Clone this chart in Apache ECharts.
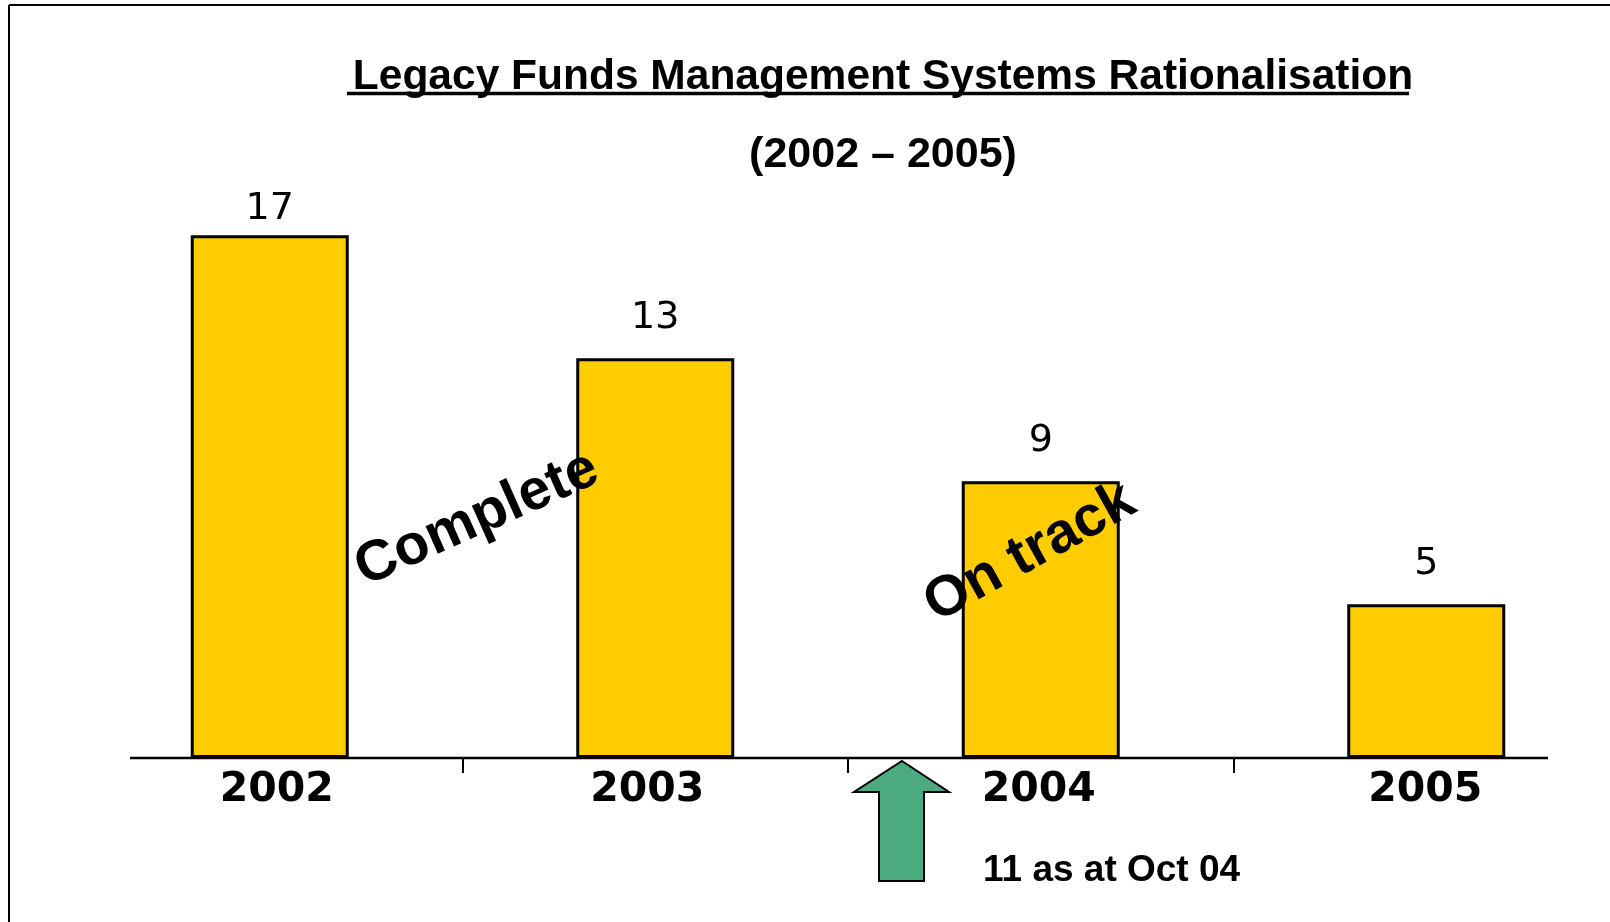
<!DOCTYPE html>
<html>
<head>
<meta charset="utf-8">
<script src="https://cdn.jsdelivr.net/npm/echarts@6/dist/echarts.min.js"></script>
<style>
  html, body { margin: 0; padding: 0; background: #fff; }
  #chart { width: 1610px; height: 922px; }
</style>
</head>
<body>
<div id="chart"></div>
<script>
const years = ['2002', '2003', '2004', '2005'];
const systemCounts = [17, 13, 9, 5];
const titleText = 'Legacy Funds Management Systems Rationalisation';
const subtitleText = '(2002 \u2013 2005)';
const noteText = '11 as at Oct 04';

const chart = echarts.init(document.getElementById('chart'));

const arialBold = '"Liberation Sans", Arial, sans-serif';

// first label sits closer to its bar in the original
const barData = systemCounts.map((v, i) => (i === 0 ? { value: v, label: { distance: 7 } } : v));
// year labels are not quite centred under the bars in the original
const labelShift = [7, -8, -2, -1];
const yearData = years.map((y, i) => ({
  value: y,
  textStyle: { padding: labelShift[i] > 0 ? [0, 0, 0, 2 * labelShift[i]] : [0, -2 * labelShift[i], 0, 0] }
}));

const option = {
  backgroundColor: '#fff',
  animation: false,
  title: [
    {
      text: titleText,
      left: 878,
      top: 51,
      textAlign: 'center',
      textStyle: { fontFamily: arialBold, fontWeight: 'bold', fontSize: 42.5, color: '#000' }
    },
    {
      text: subtitleText,
      left: 878,
      top: 129,
      textAlign: 'center',
      textStyle: { fontFamily: arialBold, fontWeight: 'bold', fontSize: 43, color: '#000' }
    }
  ],
  grid: { left: 77, width: 1542, top: 143, bottom: 164, outerBoundsMode: 'none', containLabel: false },
  xAxis: {
    type: 'category',
    data: yearData,
    axisLine: { show: false },
    axisTick: {
      show: true,
      length: 15,
      interval: (idx) => idx > 0,
      lineStyle: { color: '#000', width: 2 }
    },
    axisLabel: {
      interval: 0,
      margin: 12,
      color: '#000',
      fontFamily: '"DejaVu Sans", sans-serif',
      fontWeight: 'bold',
      fontSize: 41
    }
  },
  yAxis: {
    type: 'value',
    min: 0,
    max: 20,
    show: false,
    splitLine: { show: false }
  },
  series: [
    {
      type: 'bar',
      data: barData,
      barWidth: 158,
      itemStyle: { color: '#FFCC00', borderColor: '#000', borderWidth: 3 },
      label: {
        show: true,
        position: 'top',
        distance: 21,
        color: '#000',
        fontFamily: '"DejaVu Sans", sans-serif',
        fontSize: 38
      }
    }
  ],
  graphic: [
    // frame
    { type: 'line', z: 5, shape: { x1: 9, y1: 5, x2: 1610, y2: 5 }, style: { stroke: '#000', lineWidth: 2 } },
    { type: 'line', z: 5, shape: { x1: 9, y1: 5, x2: 9, y2: 922 }, style: { stroke: '#000', lineWidth: 2 } },
    // title underline
    { type: 'line', z: 5, shape: { x1: 347, y1: 93.5, x2: 1409, y2: 93.5 }, style: { stroke: '#000', lineWidth: 3.5 } },
    // baseline
    { type: 'line', z: 5, shape: { x1: 130, y1: 758, x2: 1548, y2: 758 }, style: { stroke: '#000', lineWidth: 2.5 } },
    // arrow
    {
      type: 'polygon', z: 5,
      shape: { points: [[902, 761], [949, 792], [924, 792], [924, 881], [879, 881], [879, 792], [854, 792]] },
      style: { fill: '#4BAA80', stroke: '#000', lineWidth: 2 }
    },
    {
      type: 'text', z: 10, x: 983, y: 871,
      style: { text: noteText, font: 'bold 37px ' + arialBold, fill: '#000', align: 'left', verticalAlign: 'middle' }
    },
    {
      type: 'text', z: 10, x: 477, y: 519, rotation: 24 * Math.PI / 180,
      style: { text: 'Complete', font: 'bold 57px ' + arialBold, fill: '#000', align: 'center', verticalAlign: 'middle' }
    },
    {
      type: 'text', z: 10, x: 1030, y: 553, rotation: 29 * Math.PI / 180,
      style: { text: 'On track', font: 'bold 57px ' + arialBold, fill: '#000', align: 'center', verticalAlign: 'middle' }
    }
  ]
};

chart.setOption(option);
</script>
</body>
</html>
